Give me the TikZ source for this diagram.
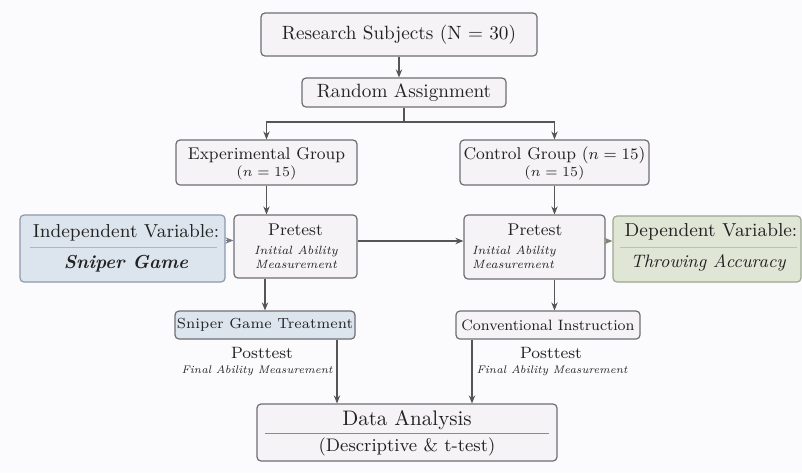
\documentclass[tikz,border=0pt]{standalone}
\usetikzlibrary{arrows.meta}

\definecolor{bgcol}{HTML}{FBFAFC}
\definecolor{boxfill}{HTML}{F5F3F6}
\definecolor{boxline}{HTML}{6E6E72}
\definecolor{bluefill}{HTML}{DCE4ED}
\definecolor{blueline}{HTML}{8C9AA8}
\definecolor{greenfill}{HTML}{DFE6D6}
\definecolor{greenline}{HTML}{9AA88E}
\definecolor{txt}{HTML}{222222}
\definecolor{arrowcol}{HTML}{555555}

\tikzset{
    box/.style={draw=boxline, fill=boxfill, rounded corners=2pt, line width=0.6pt, inner sep=0pt},
    ivbox/.style={box, draw=blueline, fill=bluefill},
    dvbox/.style={box, draw=greenline, fill=greenfill},
    lbl/.style={text=txt, inner sep=0pt, align=center},
    sublbl/.style={lbl, font=\fontsize{6}{7}\selectfont\itshape},
    arr/.style={-{Stealth[length=4pt,width=3.2pt]}, draw=arrowcol, line width=0.6pt}
}

\newcommand{\fs}[1]{\fontsize{#1}{#1}\selectfont}

\begin{document}
\begin{tikzpicture}[x=0.5pt, y=-0.5pt]
    % Page
    \useasboundingbox (0,0) rectangle (802,473);
    \fill[bgcol] (0,0) rectangle (802,473);

    % Top boxes
    \node[box, minimum width=138pt, minimum height=21.5pt] (subj) at (399,34.5) {};
    \node[lbl] (subjt) at (399,34.5) {\fs{9.6}Research Subjects (N = 30)};
    \node[box, minimum width=102pt, minimum height=14.5pt] (rand) at (404,92.5) {};
    \node[lbl] (randt) at (404,92.5) {\fs{9.6}Random Assignment};

    % Groups
    \node[box, minimum width=90.5pt, minimum height=22.5pt] (exp) at (266.5,162.5) {};
    \node[lbl] (expt) at (266.5,155) {\fs{8.5}Experimental Group};
    \node[lbl] (expn) at (266.5,173) {\fs{7.2}($n = 15$)};
    \node[box, minimum width=94.5pt, minimum height=22.5pt] (ctrl) at (554.5,162.5) {};
    \node[lbl] (ctrlt) at (554.5,155) {\fs{8.5}Control Group ($n = 15$)};
    \node[lbl] (ctrln) at (554.5,173) {\fs{7.2}($n = 15$)};

    % Variables
    \node[ivbox, minimum width=102.5pt, minimum height=33.5pt] (indep) at (122.5,248.5) {};
    \node[lbl] (indept) at (126,233) {\fs{9.4}Independent Variable:};
    \node[lbl] (indepv) at (126,264) {\fs{9.4}\bfseries\itshape Sniper Game};
    \draw[blueline!70, line width=0.4pt] (30,247) -- (217,247);
    \node[dvbox, minimum width=94pt, minimum height=33pt] (dep) at (707,249) {};
    \node[lbl] (dept) at (711,232) {\fs{9.4}Dependent Variable:};
    \node[lbl] (depv) at (708,263) {\fs{9}\itshape Throwing Accuracy};
    \draw[greenline!70, line width=0.4pt] (620,247) -- (797,247);

    % Pretests
    \node[box, minimum width=61.5pt, minimum height=31.5pt] (preL) at (295.5,246.5) {};
    \node[lbl] (preLt) at (295.5,230) {\fs{8.5}Pretest};
    \node[sublbl] (preLs) at (296,257) {Initial Ability\\Measurement};
    \node[box, minimum width=70.5pt, minimum height=32pt] (preR) at (534.5,247) {};
    \node[lbl] (preRt) at (535,230) {\fs{8.5}Pretest};
    \node[sublbl, align=left] (preRs) at (514,257) {Initial Ability\\Measurement};

    % Treatments
    \node[ivbox, draw=boxline, minimum width=90pt, minimum height=14pt] (sniper) at (265,325) {};
    \node[lbl] (snipert) at (265,325) {\fs{7.3}Sniper Game Treatment};
    \node[box, minimum width=92pt, minimum height=14pt] (conv) at (548,325) {};
    \node[lbl] (convt) at (548,325) {\fs{7.5}Conventional Instruction};

    % Posttests
    \node[lbl] (postL) at (262,353) {\fs{8.2}Posttest};
    \node[lbl] (postLs) at (257,371) {\fs{5.5}\itshape Final Ability Measurement};
    \node[lbl] (postR) at (551,353) {\fs{8.2}Posttest};
    \node[lbl] (postRs) at (552,371) {\fs{5.5}\itshape Final Ability Measurement};

    % Analysis
    \node[box, minimum width=150pt, minimum height=28.5pt] (data) at (407,432.5) {};
    \node[lbl] (datat) at (407,420) {\fs{10.5}Data Analysis};
    \node[lbl] (datas) at (407,447) {\fs{9.1}(Descriptive \& t-test)};
    \draw[boxline!80, line width=0.4pt] (265,433) -- (549,433);

    % Connectors
    \coordinate (split) at (404,122);
    \draw[arr] (subj) -- (subj |- rand.north);
    \draw[draw=arrowcol, line width=0.6pt] (rand) -- (split);
    \draw[arr] (split) -| (exp.north);
    \draw[arr] (split) -| (ctrl.north);
    \draw[arr] (exp.south) -- (exp.south |- preL.north);
    \draw[arr] (ctrl.south) -- (ctrl.south |- preR.north);
    \draw[arr, draw=blueline!80!black] ([yshift=4pt]indep.east) -- ([yshift=4pt]indep.east -| preL.west);
    \draw[arr] ([yshift=2.75pt]preL.east) -- ([yshift=2.75pt]preL.east -| preR.west);
    \draw[arr, draw=greenline!80!black] ([yshift=3pt]preR.east) -- ([yshift=3pt]preR.east -| dep.west);
    \draw[arr] (preL.south -| sniper.north) -- (sniper.north);
    \draw[arr] (preR.south -| ctrl.south) -- (conv.north -| ctrl.south);
    \draw[arr] ([xshift=36pt]sniper.south) -- ([xshift=36pt]sniper.south |- data.north);
    \draw[arr] ([xshift=-38pt]conv.south) -- ([xshift=-38pt]conv.south |- data.north);
\end{tikzpicture}
\end{document}
